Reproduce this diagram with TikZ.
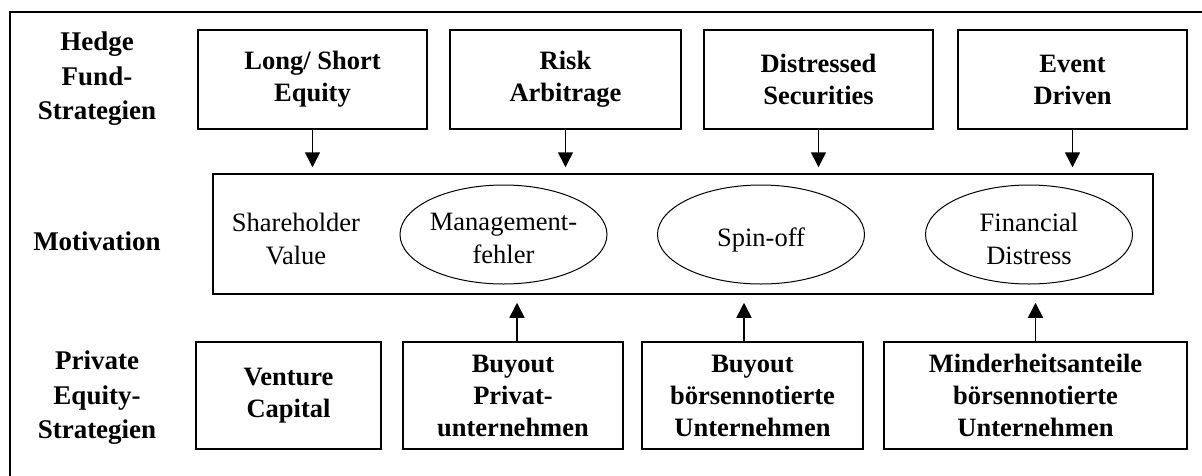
\documentclass[tikz,border=0pt]{standalone}
\usepackage{fontspec}
\setmainfont{Liberation Serif}
\usetikzlibrary{arrows.meta,shapes.geometric}
\begin{document}
\begin{tikzpicture}[x=1pt,y=-1pt,
  txt/.style={font=\fontsize{26.5}{33}\selectfont, align=center, inner sep=0pt},
  btxt/.style={txt, font=\fontsize{26.5}{32}\selectfont\bfseries},
  sidelabel/.style={btxt, font=\fontsize{27}{34.5}\selectfont\bfseries},
  stratbox/.style={btxt, draw, line width=1.5pt},
  oval/.style={txt, draw, ellipse, line width=1pt, minimum width=207, minimum height=99},
  arr/.style={line width=1.6pt, -{Triangle[length=15pt,width=15pt]}}]
\useasboundingbox (0,0) rectangle (1202,475);
% outer frame
\draw[line width=1.5pt] (10,480) -- (10,12) -- (1210,12);

% row labels
\node[sidelabel] (lhf) at (97,79) {Hedge\\Fund-\\Strategien};
\node[sidelabel] (lmot) at (97,241) {Motivation};
\node[sidelabel] (lpe) at (97,398) {Private\\Equity-\\Strategien};

% hedge fund strategies
\node[stratbox, minimum width=229, minimum height=99] (ls) at (312.5,79.5) {Long/ Short\\Equity};
\node[stratbox, minimum width=231, minimum height=99] (ra) at (565.5,79.5) {Risk\\Arbitrage};
\node[stratbox, minimum width=229, minimum height=99] (ds) at (818.5,79.5) {Distressed\\Securities};
\node[stratbox, minimum width=229, minimum height=99] (ed) at (1072.5,79.5) {Event\\Driven};

% motivation frame
\node[draw, line width=1.5pt, minimum width=940, minimum height=120, inner sep=0pt] (mot) at (683,234) {};
\node[txt] (sv) at (296,238.5) {Shareholder\\Value};
\node[oval] (mf) at (503.5,234.5) {};
\node[txt] at (503.5,238.5) {Management-\\fehler};
\node[oval] (so) at (761,234.5) {};
\node[txt] at (761,240) {Spin-off};
\node[oval] (fd) at (1029,234.5) {};
\node[txt] at (1029,238.5) {Financial\\Distress};

% private equity strategies
\node[stratbox, minimum width=185, minimum height=107] (vc) at (288.5,395.5) {Venture\\Capital};
\node[stratbox, minimum width=220, minimum height=107] (bp) at (513,395.5) {Buyout\\Privat-\\unternehmen};
\node[stratbox, minimum width=221, minimum height=107] (bb) at (752.5,395.5) {Buyout\\börsennotierte\\Unternehmen};
\node[stratbox, minimum width=303, minimum height=107] (mi) at (1035.5,395.5) {Minderheitsanteile\\börsennotierte\\Unternehmen};

% connectors
\foreach \s in {ls,ra,ds,ed}
  \draw[arr, shorten >=6pt] (\s.south) -- (\s.south |- mot.north);
\draw[arr, shorten >=8pt] ([xshift=4pt]bp.north) -- ([xshift=4pt]bp.north |- mot.south);
\draw[arr, shorten >=8pt] ([xshift=-8.5pt]bb.north) -- ([xshift=-8.5pt]bb.north |- mot.south);
\draw[arr, shorten >=8pt] (mi.north) -- (mi.north |- mot.south);
\end{tikzpicture}
\end{document}
